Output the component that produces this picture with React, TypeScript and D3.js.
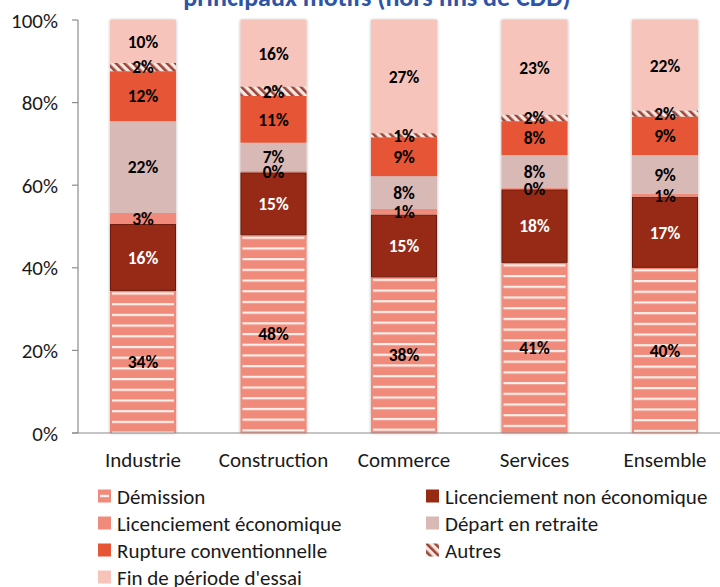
import React from "react";
import * as d3 from "d3";

const categories = ["Industrie", "Construction", "Commerce", "Services", "Ensemble"];
const demission = [34.4, 47.9, 37.7, 41.2, 40.0];
const licNonEco = [16.2, 15.2, 15.2, 17.8, 17.2];
const licEco = [2.7, 0.3, 1.4, 0.3, 0.7];
const depart = [22.2, 6.9, 7.9, 8.0, 9.4];
const rupture = [12.1, 11.3, 9.4, 8.2, 9.3];
const autres = [2.0, 2.3, 1.0, 1.6, 1.5];
const finEssai = [10.4, 16.1, 27.4, 22.9, 21.9];
const yTicks = [0, 20, 40, 60, 80, 100];
const title = "principaux motifs (hors fins de CDD)";

const series = [
  { key: "dem", name: "Démission", values: demission, color: "#F08B7B", text: "#000" },
  { key: "lne", name: "Licenciement non économique", values: licNonEco, color: "#972A12", text: "#fff" },
  { key: "le", name: "Licenciement économique", values: licEco, color: "#F08B7B", text: "#000" },
  { key: "dep", name: "Départ en retraite", values: depart, color: "#D9B9B6", text: "#000" },
  { key: "rup", name: "Rupture conventionnelle", values: rupture, color: "#E65535", text: "#000" },
  { key: "aut", name: "Autres", values: autres, color: "#9A4535", text: "#000" },
  { key: "fin", name: "Fin de période d'essai", values: finEssai, color: "#F7C4BC", text: "#000" },
];

const legendOrder = ["dem", "lne", "le", "dep", "rup", "aut", "fin"];

const FONT = "Carlito, Calibri, Lato, sans-serif";

export default function App() {
  const W = 720, H = 587;
  const x = d3.scaleBand<string>().domain(categories).range([78, 730]).paddingInner(0.494).paddingOuter(0.245);
  const y = d3.scaleLinear().domain([0, 100]).range([433, 20]);
  const bw = x.bandwidth();

  const tableRows = categories.map((c, i) => {
    const row: any = { cat: c };
    series.forEach((s) => (row[s.key] = s.values[i]));
    return row;
  });
  const stack = d3.stack<any>().keys(series.map((s) => s.key))(tableRows);

  const demIdx = 0;

  return (
    <svg width={W} height={H} style={{ position: "absolute", left: 0, top: 0, fontFamily: FONT }}>
      <defs>
        <filter id="shadow" x="-20%" y="-5%" width="140%" height="110%">
          <feDropShadow dx="0" dy="0" stdDeviation="1.6" floodColor="#000" floodOpacity="0.35" />
        </filter>
        {categories.map((c, i) => {
          const top = y(stack[demIdx][i][1]);
          return (
            <pattern key={c} id={`demPat${i}`} patternUnits="userSpaceOnUse" x={0} y={top + 1.5} width={8} height={10.7}>
              <rect width={8} height={10.7} fill="#F08B7B" />
              <rect y={0} width={8} height={2.2} fill="#FDF0EC" />
            </pattern>
          );
        })}
        <pattern id="autPat" patternUnits="userSpaceOnUse" width={6} height={6} patternTransform="rotate(-45)">
          <rect width={6} height={6} fill="#F6E6E2" />
          <rect width={2.6} height={6} fill="#9A4535" />
        </pattern>
      </defs>

      <text x={377} y={5.5} textAnchor="middle" fontSize={26} fontWeight="bold" fill="#2E54A6">{title}</text>

      {/* bars */}
      {categories.map((c, i) => (
        <g key={c} filter="url(#shadow)">
          {stack.map((layer, si) => {
            const s = series[si];
            const y0 = y(layer[i][0]);
            const y1 = y(layer[i][1]);
            const h = y0 - y1;
            const bx = x(c)!;
            if (s.key === "dem") {
              return (
                <g key={s.key}>
                  <rect x={bx} y={y1} width={bw} height={h} fill={s.color} />
                  <rect x={bx + 2} y={y1} width={bw - 4} height={h} fill={`url(#demPat${i})`} />
                </g>
              );
            }
            if (s.key === "aut") {
              return <rect key={s.key} x={bx} y={y1} width={bw} height={h} fill="url(#autPat)" />;
            }
            if (s.key === "lne") {
              return <rect key={s.key} x={bx + 0.5} y={y1 + 0.5} width={bw - 1} height={h - 1} fill={s.color} stroke="#6E1A0A" strokeWidth={1} />;
            }
            return <rect key={s.key} x={bx} y={y1} width={bw} height={h} fill={s.color} />;
          })}
        </g>
      ))}

      {/* value labels */}
      {categories.map((c, i) => (
        <g key={c}>
          {stack.map((layer, si) => {
            const s = series[si];
            const cy = y((layer[i][0] + layer[i][1]) / 2);
            return (
              <text key={s.key} x={x(c)! + bw / 2} y={cy} dy="0.36em" textAnchor="middle" fontSize={17.5} fontWeight="bold" fill={s.text}>
                {Math.round(s.values[i])}%
              </text>
            );
          })}
        </g>
      ))}

      {/* axes */}
      <line x1={78} x2={78} y1={y(100)} y2={y(0)} stroke="#8C8C8C" strokeWidth={1.2} />
      <line x1={72} x2={720} y1={y(0)} y2={y(0)} stroke="#8C8C8C" strokeWidth={1.2} />
      {yTicks.map((t) => (
        <g key={t}>
          <line x1={72} x2={78} y1={y(t)} y2={y(t)} stroke="#8C8C8C" strokeWidth={1.2} />
          <text x={58} y={y(t)} dy="0.36em" textAnchor="end" fontSize={21} fill="#1a1a1a">{t}%</text>
        </g>
      ))}
      {categories.map((c) => (
        <text key={c} x={x(c)! + bw / 2} y={467} textAnchor="middle" fontSize={21} fill="#1a1a1a">{c}</text>
      ))}

      {/* legend */}
      {legendOrder.map((k, idx) => {
        const s = series.find((q) => q.key === k)!;
        const col = idx % 2;
        const row = Math.floor(idx / 2);
        const sx = col === 0 ? 98 : 426;
        const cy = 496 + row * 27;
        return (
          <g key={k}>
            {k === "dem" ? (
              <g>
                <rect x={sx} y={cy - 6.5} width={13} height={13} fill="#F08B7B" />
                <rect x={sx + 2} y={cy - 1.2} width={9} height={2.4} fill="#FDF0EC" />
              </g>
            ) : k === "aut" ? (
              <rect x={sx} y={cy - 6.5} width={13} height={13} fill="url(#autPat)" />
            ) : (
              <rect x={sx} y={cy - 6.5} width={13} height={13} fill={s.color} />
            )}
            <text x={sx + 19} y={cy} dy="0.36em" fontSize={21} fill="#1a1a1a">{s.name}</text>
          </g>
        );
      })}
    </svg>
  );
}
